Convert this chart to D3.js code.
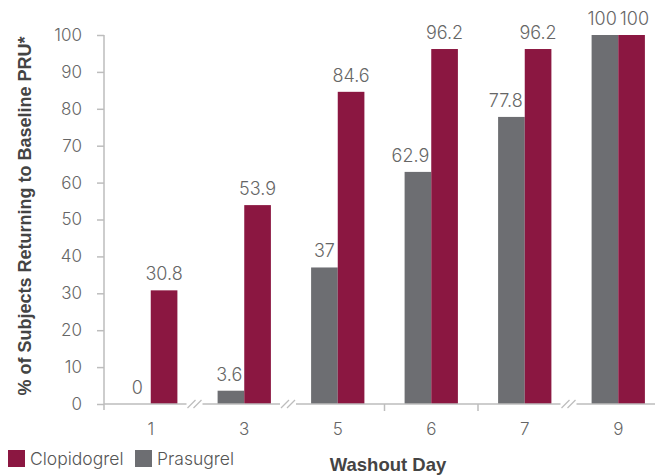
<!DOCTYPE html>
<html>
<head>
<meta charset="utf-8">
<script src="https://cdn.jsdelivr.net/npm/d3@7"></script>
<style>
  body { margin: 0; background: #fff; }
  text { font-family: "Liberation Sans", Arial, sans-serif; }
  .light { font-family: Inter, "Liberation Sans", sans-serif; font-weight: 300; }
</style>
</head>
<body>
<script>
const days = ["1", "3", "5", "6", "7", "9"];
const seriesNames = ["Prasugrel", "Clopidogrel"];
const prasugrel = [0, 3.6, 37, 62.9, 77.8, 100];
const clopidogrel = [30.8, 53.9, 84.6, 96.2, 96.2, 100];
const yTicks = [0, 10, 20, 30, 40, 50, 60, 70, 80, 90, 100];
// gaps in the washout days get a break mark, the rest a plain tick
const breakAfter = [0, 1, 4];
const tickAfter = [2, 3];

const width = 656;
const height = 475;
const colors = { Clopidogrel: "#8b1741", Prasugrel: "#6d6e72" };
const axisColor = "#bdbdbd";
const textColor = "#666";

const svg = d3.select("body")
    .append("svg")
    .attr("width", width)
    .attr("height", height);

const x = d3.scaleBand()
    .domain(days)
    .range([104, 665])
    .paddingInner(0.43)
    .paddingOuter(0.215);

const xs = d3.scaleBand()
    .domain(seriesNames)
    .range([0, x.bandwidth()]);

const y = d3.scaleLinear()
    .domain([0, 100])
    .range([404, 35]);

const rows = days.map((day, i) => ({
  day: day,
  values: [
    { name: "Prasugrel", value: prasugrel[i] },
    { name: "Clopidogrel", value: clopidogrel[i] },
  ],
}));

// y axis
const yAxis = svg.append("g")
    .attr("transform", "translate(104,0)")
    .call(d3.axisLeft(y).tickValues(yTicks).tickSize(7).tickSizeOuter(0).tickPadding(15));

yAxis.select(".domain").remove();
yAxis.selectAll(".tick line").attr("stroke", axisColor).attr("stroke-width", 1.5);
yAxis.selectAll(".tick text")
    .attr("class", "light")
    .attr("fill", textColor)
    .attr("font-size", 17)
    .attr("font-family", null);

svg.append("line")
    .attr("x1", 104).attr("x2", 104)
    .attr("y1", y(100)).attr("y2", y(0) + 6)
    .attr("stroke", axisColor)
    .attr("stroke-width", 1.5);

// bars
const groups = svg.selectAll(".day")
    .data(rows)
    .enter()
    .append("g")
    .attr("class", "day")
    .attr("transform", (d) => `translate(${x(d.day)},0)`);

groups.selectAll("rect")
    .data((d) => d.values)
    .enter()
    .append("rect")
    .attr("x", (d) => xs(d.name))
    .attr("width", xs.bandwidth())
    .attr("y", (d) => y(d.value))
    .attr("height", (d) => y(0) - y(d.value))
    .attr("fill", (d) => colors[d.name]);

groups.each(function(d) {
  const g = d3.select(this);
  const labels = g.selectAll(".val")
      .data(d.values)
      .enter()
      .append("text")
      .attr("class", "val light")
      .attr("x", (v) => xs(v.name) + xs.bandwidth() / 2)
      .attr("y", (v) => y(v.value) - 10)
      .attr("text-anchor", "middle")
      .attr("font-size", 18)
      .attr("fill", textColor)
      .text((v) => v.value);

  const nodes = labels.nodes();
  const left = nodes[0].getBBox();
  const right = nodes[1].getBBox();
  const leftX = xs(d.values[0].name) + xs.bandwidth() / 2;
  const rightX = xs(d.values[1].name) + xs.bandwidth() / 2;

  if (d.values[1].value > d.values[0].value + 5) {
    // keep the short bar's label clear of the tall bar next to it
    const limit = xs(d.values[1].name) - 2;
    if (left.x + left.width > limit) {
      d3.select(nodes[0]).attr("x", leftX - (left.x + left.width - limit));
    }
  } else if (left.x + left.width + 3 > right.x) {
    // same height: push the two labels apart
    const push = (left.x + left.width + 3 - right.x) / 2;
    d3.select(nodes[0]).attr("x", leftX - push);
    d3.select(nodes[1]).attr("x", rightX + push);
  }
});

// x axis line with breaks
const step = x.step();
const boundary = (i) => x(days[i]) + x.bandwidth() + (step - x.bandwidth()) / 2;
const breaks = breakAfter.map((i) => boundary(i) - 3);
const gap = 8;
let start = 104;
const segments = [];
for (const b of breaks) {
  segments.push([start, b - gap]);
  start = b + gap;
}
segments.push([start, 655]);

svg.selectAll(".xseg")
    .data(segments)
    .enter()
    .append("line")
    .attr("x1", (d) => d[0])
    .attr("x2", (d) => d[1])
    .attr("y1", y(0))
    .attr("y2", y(0))
    .attr("stroke", axisColor)
    .attr("stroke-width", 1.5);

for (const b of breaks) {
  [-3, 3].forEach((off) => {
    svg.append("line")
        .attr("x1", b + off - 4)
        .attr("x2", b + off + 4)
        .attr("y1", y(0) + 4)
        .attr("y2", y(0) - 4)
        .attr("stroke", axisColor)
        .attr("stroke-width", 1.3);
  });
}

svg.selectAll(".xtick")
    .data(tickAfter)
    .enter()
    .append("line")
    .attr("x1", (i) => boundary(i))
    .attr("x2", (i) => boundary(i))
    .attr("y1", y(0))
    .attr("y2", y(0) + 7)
    .attr("stroke", axisColor)
    .attr("stroke-width", 1.5);

svg.selectAll(".xlabel")
    .data(days)
    .enter()
    .append("text")
    .attr("class", "light")
    .attr("x", (d) => x(d) + x.bandwidth() / 2)
    .attr("y", 435)
    .attr("text-anchor", "middle")
    .attr("font-size", 17)
    .attr("fill", textColor)
    .text((d) => d);

// titles
svg.append("text")
    .attr("x", 388)
    .attr("y", 471)
    .attr("text-anchor", "middle")
    .attr("font-size", 18.5)
    .attr("font-weight", "bold")
    .attr("fill", "#444")
    .text("Washout Day");

svg.append("text")
    .attr("transform", "translate(31,216) rotate(-90)")
    .attr("text-anchor", "middle")
    .attr("font-size", 18)
    .attr("font-weight", "bold")
    .attr("fill", "#444")
    .text("% of Subjects Returning to Baseline PRU*");

// legend
const legend = [
  { name: "Clopidogrel", x: 8 },
  { name: "Prasugrel", x: 135 },
];

const lg = svg.selectAll(".legend")
    .data(legend)
    .enter()
    .append("g")
    .attr("class", "legend")
    .attr("transform", (d) => `translate(${d.x},450)`);

lg.append("rect")
    .attr("width", 17)
    .attr("height", 17)
    .attr("fill", (d) => colors[d.name]);

lg.append("text")
    .attr("class", "light")
    .attr("x", 22)
    .attr("y", 15)
    .attr("font-size", 17.5)
    .attr("fill", "#555")
    .text((d) => d.name);
</script>
</body>
</html>
